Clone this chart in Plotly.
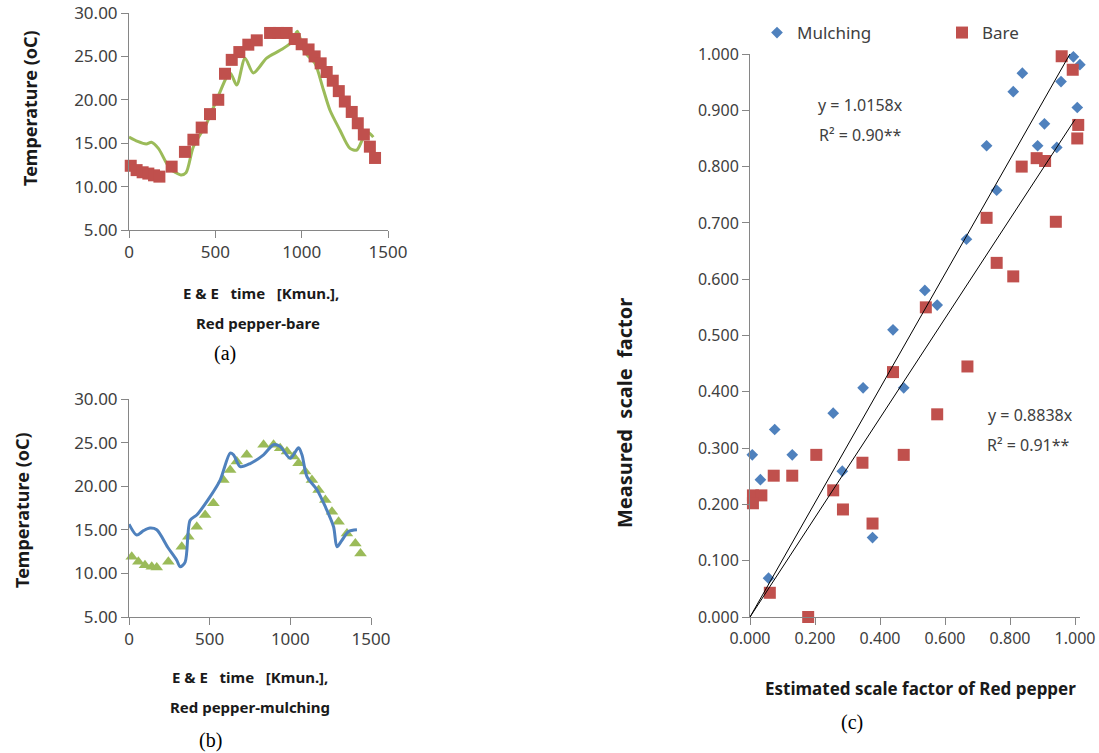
import plotly.graph_objects as go

W, H = 1099, 753

# ---------------- Data ----------------
# (a) Red pepper - bare
bare_time = [10, 44, 79, 112, 145, 176, 247, 324, 373, 421, 469, 517, 556, 595, 639, 691, 740,
             817, 865, 913, 960, 1000, 1040, 1075, 1110, 1145, 1180, 1215, 1250, 1290, 1325,
             1360, 1395, 1425]
bare_temp = [12.4, 11.9, 11.65, 11.5, 11.3, 11.15, 12.3, 14.0, 15.4, 16.8, 18.35, 20.0, 23.0,
             24.6, 25.5, 26.35, 26.85, 27.7, 27.7, 27.7, 27.0, 26.4, 25.8, 25.0, 24.2, 23.2,
             22.2, 21.0, 19.8, 18.6, 17.3, 16.0, 14.6, 13.3]
bare_line_time = [0, 50, 100, 130, 170, 237, 300, 330, 373, 450, 508, 585, 624, 672, 720, 797,
                  875, 940, 975, 1010, 1039, 1077, 1126, 1164, 1222, 1280, 1319, 1357, 1386, 1415]
bare_line_temp = [15.7, 15.2, 14.9, 15.1, 14.4, 12.1, 11.35, 11.6, 14.6, 17.3, 20.0, 23.1, 21.7,
                  24.8, 23.1, 24.8, 25.7, 26.6, 27.9, 25.8, 25.0, 24.2, 21.15, 18.8, 16.5, 14.4,
                  14.2, 15.6, 16.2, 15.7]

# (b) Red pepper - mulching
mulch_time = [17, 58, 99, 141, 172, 244, 327, 368, 420, 472, 523, 585, 627, 668, 730, 834, 896,
              937, 979, 1020, 1051, 1092, 1134, 1175, 1217, 1258, 1299, 1351, 1403, 1435]
mulch_temp = [11.9, 11.33, 10.94, 10.75, 10.67, 11.33, 13.05, 14.2, 15.35, 16.7, 18.04, 20.72,
              21.87, 22.83, 23.6, 24.75, 24.75, 24.36, 23.98, 23.4, 22.64, 21.68, 20.72, 19.57,
              18.42, 17.08, 15.93, 14.59, 13.44, 12.29]
mulch_line_time = [0, 48, 90, 130, 172, 240, 296, 317, 348, 379, 420, 503, 565, 627, 648, 689,
                   751, 834, 896, 937, 999, 1051, 1072, 1103, 1165, 1217, 1268, 1289, 1320, 1361, 1413]
mulch_line_temp = [15.65, 14.4, 14.9, 15.2, 15.0, 13.0, 11.5, 10.75, 11.3, 16.1, 16.7, 18.8,
                   20.7, 23.8, 23.6, 22.25, 22.6, 23.6, 24.75, 24.55, 23.2, 24.4, 23.6, 21.1,
                   19.6, 17.65, 15.35, 13.05, 13.8, 14.8, 15.0]

# (c) Estimated vs measured scale factor
mulching_est = [0.007, 0.032, 0.057, 0.076, 0.130, 0.256, 0.284, 0.348, 0.377, 0.440, 0.473,
                0.538, 0.576, 0.666, 0.728, 0.759, 0.810, 0.838, 0.885, 0.906, 0.944, 0.957,
                0.995, 1.007, 1.015]
mulching_meas = [0.288, 0.244, 0.069, 0.333, 0.288, 0.362, 0.259, 0.407, 0.141, 0.510, 0.407,
                 0.580, 0.554, 0.671, 0.837, 0.758, 0.933, 0.966, 0.837, 0.876, 0.834, 0.951,
                 0.995, 0.905, 0.981]
bare_est = [0.009, 0.035, 0.009, 0.061, 0.073, 0.130, 0.179, 0.204, 0.256, 0.286, 0.346, 0.377,
            0.440, 0.473, 0.541, 0.576, 0.669, 0.728, 0.759, 0.810, 0.836, 0.882, 0.908, 0.941,
            0.959, 0.993, 1.007, 1.010]
bare_meas = [0.216, 0.216, 0.202, 0.043, 0.251, 0.251, 0.000, 0.288, 0.225, 0.191, 0.274, 0.166,
             0.435, 0.288, 0.550, 0.360, 0.445, 0.709, 0.629, 0.605, 0.800, 0.815, 0.810, 0.702,
             0.996, 0.972, 0.850, 0.874]
slope_mulching = 1.0158
slope_bare = 0.8838
r2_mulching = "0.90**"
r2_bare = "0.91**"

temp_ticks = [5, 10, 15, 20, 25, 30]
time_ticks = [0, 500, 1000, 1500]
sf_ticks = [0.0, 0.1, 0.2, 0.3, 0.4, 0.5, 0.6, 0.7, 0.8, 0.9, 1.0]
sfx_ticks = [0.0, 0.2, 0.4, 0.6, 0.8, 1.0]
sfx_max = 1.016  # axis runs slightly past 1.000 so the points beyond it stay visible

# ---------------- Style ----------------
RED = "#C0504D"
GREEN = "#9BBB59"
BLUE = "#4F81BD"
AXIS = "#868686"
TICKC = "#404040"
FONT = "Noto Sans"
SERIF = "Liberation Serif"


def px(x):
    return x / W


def py(y):
    return 1 - y / H


fig = go.Figure()

# (a)
fig.add_trace(go.Scatter(x=bare_line_time, y=bare_line_temp, mode="lines",
                         line=dict(color=GREEN, width=3, shape="spline", smoothing=0.8),
                         xaxis="x", yaxis="y", showlegend=False))
fig.add_trace(go.Scatter(x=bare_time, y=bare_temp, mode="markers",
                         marker=dict(symbol="square", size=12, color=RED),
                         xaxis="x", yaxis="y", showlegend=False, cliponaxis=False))
# (b)
fig.add_trace(go.Scatter(x=mulch_time, y=mulch_temp, mode="markers",
                         marker=dict(symbol="triangle-up", size=11, color=GREEN),
                         xaxis="x2", yaxis="y2", showlegend=False, cliponaxis=False))
fig.add_trace(go.Scatter(x=mulch_line_time, y=mulch_line_temp, mode="lines",
                         line=dict(color=BLUE, width=3, shape="spline", smoothing=0.8),
                         xaxis="x2", yaxis="y2", showlegend=False))
# (c)
fig.add_trace(go.Scatter(x=mulching_est, y=mulching_meas, mode="markers", name="Mulching",
                         marker=dict(symbol="diamond", size=9, color=BLUE),
                         xaxis="x3", yaxis="y3", cliponaxis=False))
fig.add_trace(go.Scatter(x=bare_est, y=bare_meas, mode="markers", name="Bare",
                         marker=dict(symbol="square", size=12, color=RED),
                         xaxis="x3", yaxis="y3", cliponaxis=False))
for s in (slope_mulching, slope_bare):
    xe = min(1.0, 1.0 / s)
    fig.add_trace(go.Scatter(x=[0, xe], y=[0, s * xe], mode="lines",
                             line=dict(color="black", width=1),
                             xaxis="x3", yaxis="y3", showlegend=False))


def axis_common(size):
    return dict(showline=True, linecolor=AXIS, linewidth=1, showgrid=False, zeroline=False,
                ticks="outside", ticklen=7, tickcolor=AXIS, automargin=False,
                tickfont=dict(family=FONT, size=size, color=TICKC))


x3_left, x3_unit = 750, 325  # pixels at 0 and per unit of the estimated scale factor

fig.update_layout(
    width=W, height=H, margin=dict(l=0, r=0, t=0, b=0, autoexpand=False),
    paper_bgcolor="white", plot_bgcolor="white",
    xaxis=dict(domain=[px(129), px(388)], range=[0, 1500], tickvals=time_ticks,
               anchor="y", **axis_common(17)),
    yaxis=dict(domain=[py(230), py(13)], range=[5, 30], tickvals=temp_ticks,
               tickformat=".2f", anchor="x", **axis_common(17)),
    xaxis2=dict(domain=[px(129), px(371)], range=[0, 1500], tickvals=time_ticks,
                anchor="y2", **axis_common(17)),
    yaxis2=dict(domain=[py(617), py(399)], range=[5, 30], tickvals=temp_ticks,
                tickformat=".2f", anchor="x2", **axis_common(17)),
    xaxis3=dict(domain=[px(x3_left), px(x3_left + x3_unit * sfx_max)], range=[0, sfx_max],
                tickvals=sfx_ticks, tickformat=".3f", anchor="y3", **axis_common(16)),
    yaxis3=dict(domain=[py(617), py(54)], range=[0, 1.0], tickvals=sf_ticks,
                tickformat=".3f", anchor="x3", **axis_common(16)),
    legend=dict(orientation="h", x=px(757), y=py(15), xanchor="left", yanchor="top",
                font=dict(family=FONT, size=17, color=TICKC), bgcolor="rgba(0,0,0,0)",
                entrywidth=140, entrywidthmode="pixels", itemsizing="trace"),
)

ann = []


def text(x, y, t, size, bold=False, family=FONT, angle=0, color="#1a1a1a"):
    ann.append(dict(x=px(x), y=py(y), xref="paper", yref="paper", text=("<b>%s</b>" % t) if bold else t,
                    showarrow=False, xanchor="center", yanchor="middle", textangle=angle,
                    font=dict(family=family, size=size, color=color)))


NB = "\u00a0"
# (a)
text(30, 108, "Temperature (oC)", 18, bold=True, angle=-90)
text(261, 293, "E &amp; E" + NB * 3 + "time" + NB * 3 + "[Kmun.],", 15, bold=True)
text(258, 323, "Red pepper-bare", 15, bold=True)
text(225, 353, "(a)", 20, family=SERIF, color="black")
# (b)
text(22, 510, "Temperature (oC)", 18, bold=True, angle=-90)
text(250, 677, "E &amp; E" + NB * 3 + "time" + NB * 3 + "[Kmun.],", 15, bold=True)
text(250, 707, "Red pepper-mulching", 15, bold=True)
text(210, 740, "(b)", 20, family=SERIF, color="black")
# (c)
text(625, 413, "Measured" + NB * 2 + "scale" + NB * 2 + "factor", 20, bold=True, angle=-90)
text(920, 688, "Estimated scale factor of Red pepper", 17, bold=True)
text(852, 722, "(c)", 20, family=SERIF, color="black")
text(860, 105, "y = %.4fx" % slope_mulching, 16, color=TICKC)
text(860, 135, "R² = " + r2_mulching, 16, color=TICKC)
text(1030, 415, "y = %.4fx" % slope_bare, 16, color=TICKC)
text(1028, 445, "R² = " + r2_bare, 16, color=TICKC)

fig.update_layout(annotations=ann)
fig.write_html("out.html")
